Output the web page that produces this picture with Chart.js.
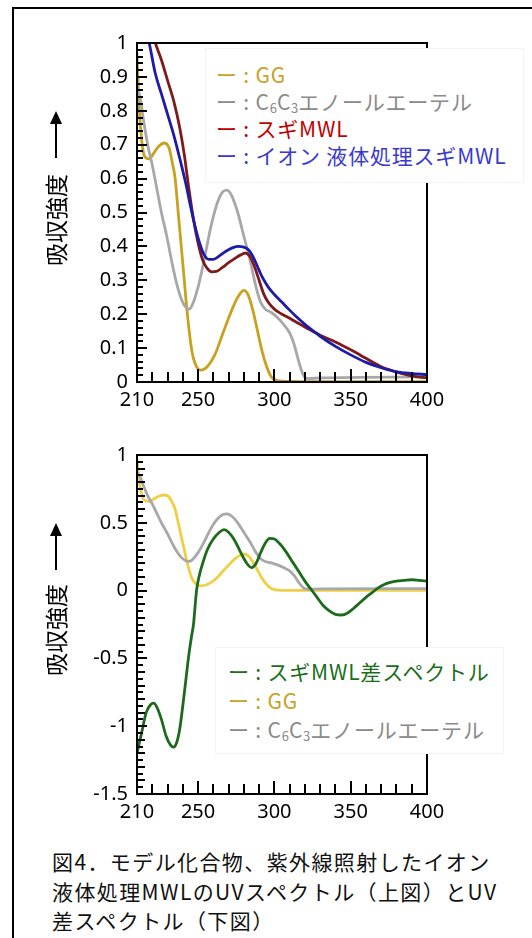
<!DOCTYPE html>
<html><head><meta charset="utf-8">
<script src="https://cdn.jsdelivr.net/npm/chart.js@4.4.1/dist/chart.umd.min.js"></script>
<style>
html,body{margin:0;padding:0;width:532px;height:938px;overflow:hidden;background:#fff;}
#frame{position:absolute;left:12px;top:7px;width:600px;height:1000px;border:2px solid #000;}
canvas{position:absolute;left:0;}
#c1{top:0;} #c2{top:430px;}
.legend{position:absolute;background:#fff;border:1px solid #f4f4f4;font-family:"Noto Sans CJK JP";font-size:21px;letter-spacing:0.8px;white-space:nowrap;box-sizing:border-box;}
.legend sub{font-size:13px;vertical-align:-3px;line-height:0;letter-spacing:0;}
#lg1{left:205px;top:48px;width:319px;height:135px;padding:12px 0 0 10px;line-height:27px;}
#lg2{left:215px;top:647px;width:289px;height:107px;padding:9px 0 0 12px;line-height:29px;}
.caption{position:absolute;left:52px;top:847px;font-family:"Noto Sans CJK JP";font-size:21px;letter-spacing:1.4px;line-height:29.5px;color:#111;white-space:nowrap;}
</style></head>
<body>
<div id="frame"></div>
<canvas id="c1" width="532" height="430"></canvas>
<canvas id="c2" width="532" height="412"></canvas>
<div class="legend" id="lg1"></div>
<div class="legend" id="lg2"></div>
<div class="caption" id="cap"></div>
<script>
// ---- data (wavelength nm, absorbance) ----
const ggWl   = [210,211,212.5,215,218,221,224,228,231,233,235,237,240,243,246,249,252,256,261,266,271,276,280,283,286,289,292,295,298,302,310,320,400];
const ggAbs  = [0.97,0.85,0.74,0.665,0.658,0.675,0.694,0.705,0.69,0.65,0.6,0.5,0.35,0.2,0.09,0.045,0.035,0.045,0.08,0.14,0.2,0.25,0.27,0.255,0.21,0.15,0.09,0.045,0.015,0.004,0.002,0.001,0.001];
const enolWl  = [210,212,214,217,220,223,226,229.5,233,236,239,242,244,246,250,254,258,262,266,269,272,276,280,284,288,291,294,298,302,306,310,313,316,319,322,330,400];
const enolAbs = [0.87,0.84,0.78,0.7,0.64,0.57,0.5,0.43,0.35,0.29,0.245,0.22,0.215,0.225,0.28,0.36,0.45,0.52,0.56,0.566,0.55,0.5,0.43,0.36,0.28,0.235,0.215,0.205,0.19,0.17,0.145,0.11,0.06,0.02,0.01,0.012,0.015];
const mwlWl  = [210,215,220,222,226,230,234,238,241,244,247,250,253,256,259,262,266,270,274,278,281,284,287,290,293,296,300,305,310,315,320,325,330,340,350,360,370,380,390,400];
const mwlAbs = [1.2,1.1,1.03,1.0,0.95,0.89,0.83,0.75,0.67,0.57,0.48,0.41,0.36,0.335,0.325,0.326,0.338,0.352,0.364,0.375,0.38,0.37,0.34,0.3,0.26,0.235,0.215,0.2,0.188,0.175,0.162,0.15,0.138,0.118,0.095,0.07,0.045,0.03,0.018,0.012];
const ilWl   = [210,214,218,222,226,230,234,238,242,245,248,251,254,257,260,264,268,272,276,280,283,286,289,292,296,300,305,310,315,320,325,330,340,350,360,370,380,390,400];
const ilAbs  = [1.15,1.07,1.0,0.91,0.85,0.79,0.73,0.66,0.585,0.52,0.46,0.41,0.375,0.362,0.362,0.372,0.385,0.395,0.4,0.398,0.39,0.37,0.34,0.31,0.28,0.258,0.235,0.212,0.19,0.17,0.152,0.135,0.105,0.08,0.058,0.042,0.03,0.025,0.022];
const diffWl  = [210,213,216,219,221,223,226,229,232,234,236,238,240,242,244,246,247,249,251,253,256,260,264,267,270,274,278,282,285,288,291,294,297,300,304,308,312,316,320,324,328,332,336,340,344,348,352,356,360,364,368,372,376,380,385,390,395,400];
const diffAbs = [-1.2,-1.05,-0.9,-0.84,-0.83,-0.86,-0.95,-1.07,-1.14,-1.155,-1.12,-1.02,-0.85,-0.66,-0.47,-0.32,-0.25,0.0,0.12,0.2,0.3,0.38,0.43,0.45,0.43,0.37,0.28,0.2,0.17,0.2,0.28,0.35,0.385,0.38,0.34,0.28,0.21,0.14,0.07,0.01,-0.05,-0.11,-0.15,-0.175,-0.18,-0.165,-0.13,-0.09,-0.05,-0.015,0.02,0.045,0.06,0.07,0.075,0.08,0.075,0.07];

const xTickLabels    = [210,250,300,350,400];
const yTickLabelsTop = [0,0.1,0.2,0.3,0.4,0.5,0.6,0.7,0.8,0.9,1];
const yTickLabelsBot = [-1.5,-1,-0.5,0,0.5,1];

const namesTop  = ['GG','C₆C₃エノールエーテル','スギMWL','イオン 液体処理スギMWL'];
const namesBot  = ['スギMWL差スペクトル','GG','C₆C₃エノールエーテル'];
const yTitle = '吸収強度';
const captionLines = ['図4．モデル化合物、紫外線照射したイオン','液体処理MWLのUVスペクトル（上図）とUV','差スペクトル（下図）'];

// ---- colours ----
const C = {gg:'#c8a21e', ggLight:'#f0cf45', enol:'#a8a8a8', mwl:'#7e1a1a', il:'#1c1ca8', diff:'#1d6a1d'};
const T = {gg:'#c9a227', enol:'#8a8a8a', mwl:'#c00000', il:'#3a3ad0', diff:'#1a6e1a'};

const pts = (w,a) => w.map((x,i)=>({x, y:a[i]}));
const ds = (label, w, a, color) => ({label, data:pts(w,a), borderColor:color, borderWidth:2.8, pointRadius:0, tension:0.4, cubicInterpolationMode:'monotone', fill:false, clip:1});

function frameTicksPlugin(cfg){
  return {
    id:'frameTicks_'+cfg.id,
    afterDraw(chart){
      const ctx = chart.ctx, a = chart.chartArea, x = chart.scales.x, y = chart.scales.y;
      ctx.save();
      ctx.strokeStyle='#000'; ctx.fillStyle='#000'; ctx.lineWidth=2;
      const n = Math.round((cfg.yMax-cfg.yMin)/cfg.yStep);
      for(let i=0;i<=n;i++){
        const v = cfg.yMin + i*cfg.yStep;
        let len = 6;
        if (Math.abs(v/cfg.yMajor - Math.round(v/cfg.yMajor))<1e-6) len = 10;
        else if (cfg.yMid && Math.abs(v/cfg.yMid - Math.round(v/cfg.yMid))<1e-6) len = 8;
        const py = Math.round(y.getPixelForValue(v));
        ctx.fillRect(a.left, py-1, len, 2);
      }
      for(let v=210; v<=400; v+=10){
        const px = Math.round(x.getPixelForValue(v));
        const len = (v%50===0) ? 13 : 10;
        ctx.fillRect(px-1, a.bottom-len, 2, len);
      }
      ctx.strokeRect(a.left,a.top,a.right-a.left,a.bottom-a.top);
      ctx.font='23px "Noto Sans CJK JP"';
      ctx.textAlign='center'; ctx.textBaseline='middle';
      ctx.save(); ctx.translate(cfg.tx, cfg.ty); ctx.rotate(-Math.PI/2); ctx.fillText(yTitle,0,0); ctx.restore();
      ctx.beginPath(); ctx.moveTo(cfg.tx,cfg.a1); ctx.lineTo(cfg.tx,cfg.a0+10); ctx.stroke();
      ctx.beginPath(); ctx.moveTo(cfg.tx,cfg.a0); ctx.lineTo(cfg.tx-6,cfg.a0+13); ctx.lineTo(cfg.tx+6,cfg.a0+13); ctx.closePath(); ctx.fill();
      ctx.restore();
    }
  };
}

function make(id, datasets, yMin, yMax, yLabels, padTop, cfg){
  cfg.id = id; cfg.yMin = yMin; cfg.yMax = yMax;
  return new Chart(document.getElementById(id), {
    type:'line',
    data:{datasets},
    options:{
      responsive:false, animation:false,
      layout:{padding:{left:0, top:padTop, right:105, bottom:0}},
      plugins:{legend:{display:false}, tooltip:{enabled:false}},
      scales:{
        x:{type:'linear', min:210, max:400,
           afterBuildTicks:s=>{s.ticks = xTickLabels.map(v=>({value:v}));},
           afterFit:s=>{s.height=48;},
           grid:{display:false, drawTicks:false}, border:{display:false},
           ticks:{autoSkip:false, maxRotation:0, padding:6, color:'#000', font:{family:'Noto Sans', size:20}, callback:v=>String(v)}},
        y:{type:'linear', min:yMin, max:yMax,
           afterBuildTicks:s=>{s.ticks = yLabels.map(v=>({value:v}));},
           afterFit:s=>{s.width=137;},
           grid:{display:false, drawTicks:false}, border:{display:false},
           ticks:{autoSkip:false, padding:9, color:'#000', font:{family:'Noto Sans', size:20}, callback:v=>String(v)}}
      }
    },
    plugins:[frameTicksPlugin(cfg)]
  });
}

make('c1', [
  ds(namesTop[3], ilWl, ilAbs, C.il),
  ds(namesTop[2], mwlWl, mwlAbs, C.mwl),
  ds(namesTop[1], enolWl, enolAbs, C.enol),
  ds(namesTop[0], ggWl, ggAbs, C.gg)
], 0, 1, yTickLabelsTop, 43, {yStep:0.02, yMajor:0.1, tx:56, ty:220, a0:111, a1:158});

make('c2', [
  ds(namesBot[0], diffWl, diffAbs, C.diff),
  ds(namesBot[2], enolWl, enolAbs, C.enol),
  ds(namesBot[1], ggWl, ggAbs, C.ggLight)
], -1.5, 1, yTickLabelsBot, 25, {yStep:0.05, yMajor:0.5, yMid:0.1, tx:56, ty:200, a0:93, a1:140});

const fmt = s => s.replace(/₆/g,'<sub>6</sub>').replace(/₃/g,'<sub>3</sub>');
const row = (name,color) => `<div style="color:${color}">ー : ${fmt(name)}</div>`;
document.getElementById('lg1').innerHTML =
  row(namesTop[0],T.gg)+row(namesTop[1],T.enol)+row(namesTop[2],T.mwl)+row(namesTop[3],T.il);
document.getElementById('lg2').innerHTML =
  row(namesBot[0],T.diff)+row(namesBot[1],T.gg)+row(namesBot[2],T.enol);
document.getElementById('cap').innerHTML = captionLines.join('<br>');
</script>
</body></html>
